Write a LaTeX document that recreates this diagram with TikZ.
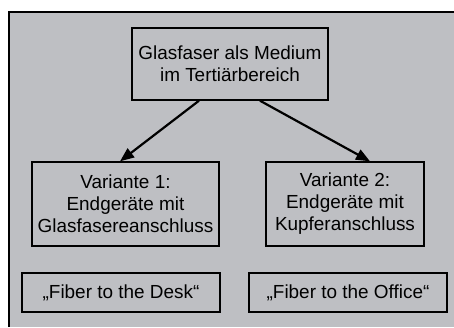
\documentclass[tikz,border=0pt]{standalone}
\usepackage{fontspec}
\setmainfont{Liberation Sans}
\usetikzlibrary{arrows.meta}
\definecolor{panelgray}{RGB}{190,191,195}
\tikzset{
    kasten/.style = {draw, line width = 1.4bp, align = center, inner sep = 0pt,
        font = \fontsize{19}{22}\selectfont},
    pfeil/.style = {line width = 2.2bp, -{Triangle[length = 14bp, width = 11bp]}}
}
\begin{document}
\begin{tikzpicture}[x = 1bp, y = 1bp]
    \useasboundingbox (0,0) rectangle (454,327);
    \fill[panelgray] (9,0) rectangle (454,315);
    \draw[line width = 2.2bp] (9,0) |- (454,315);
    % Kaesten
    \node[kasten, minimum width = 196bp, minimum height = 72bp] (medium) at (230,263) {Glasfaser als Medium\\im Tertiärbereich};
    \node[kasten, minimum width = 187bp, minimum height = 84bp] (var1) at (125.5,123) {Variante 1:\\Endgeräte mit\\Glasfasereanschluss};
    \node[kasten, minimum width = 158bp, minimum height = 84bp] (var2) at (345,123) {Variante 2:\\Endgeräte mit\\Kupferanschluss};
    \node[kasten, minimum width = 198bp, minimum height = 39bp] (desk) at (121,34.5) {„Fiber to the Desk“};
    \node[kasten, minimum width = 198bp, minimum height = 39bp] (office) at (348,34.5) {„Fiber to the Office“};
    % Pfeile
    \draw[pfeil] ([xshift = -31bp]medium.south) -- ([xshift = -5.5bp]var1.north);
    \draw[pfeil] ([xshift = 30bp]medium.south) -- ([xshift = 25bp]var2.north);
\end{tikzpicture}
\end{document}
